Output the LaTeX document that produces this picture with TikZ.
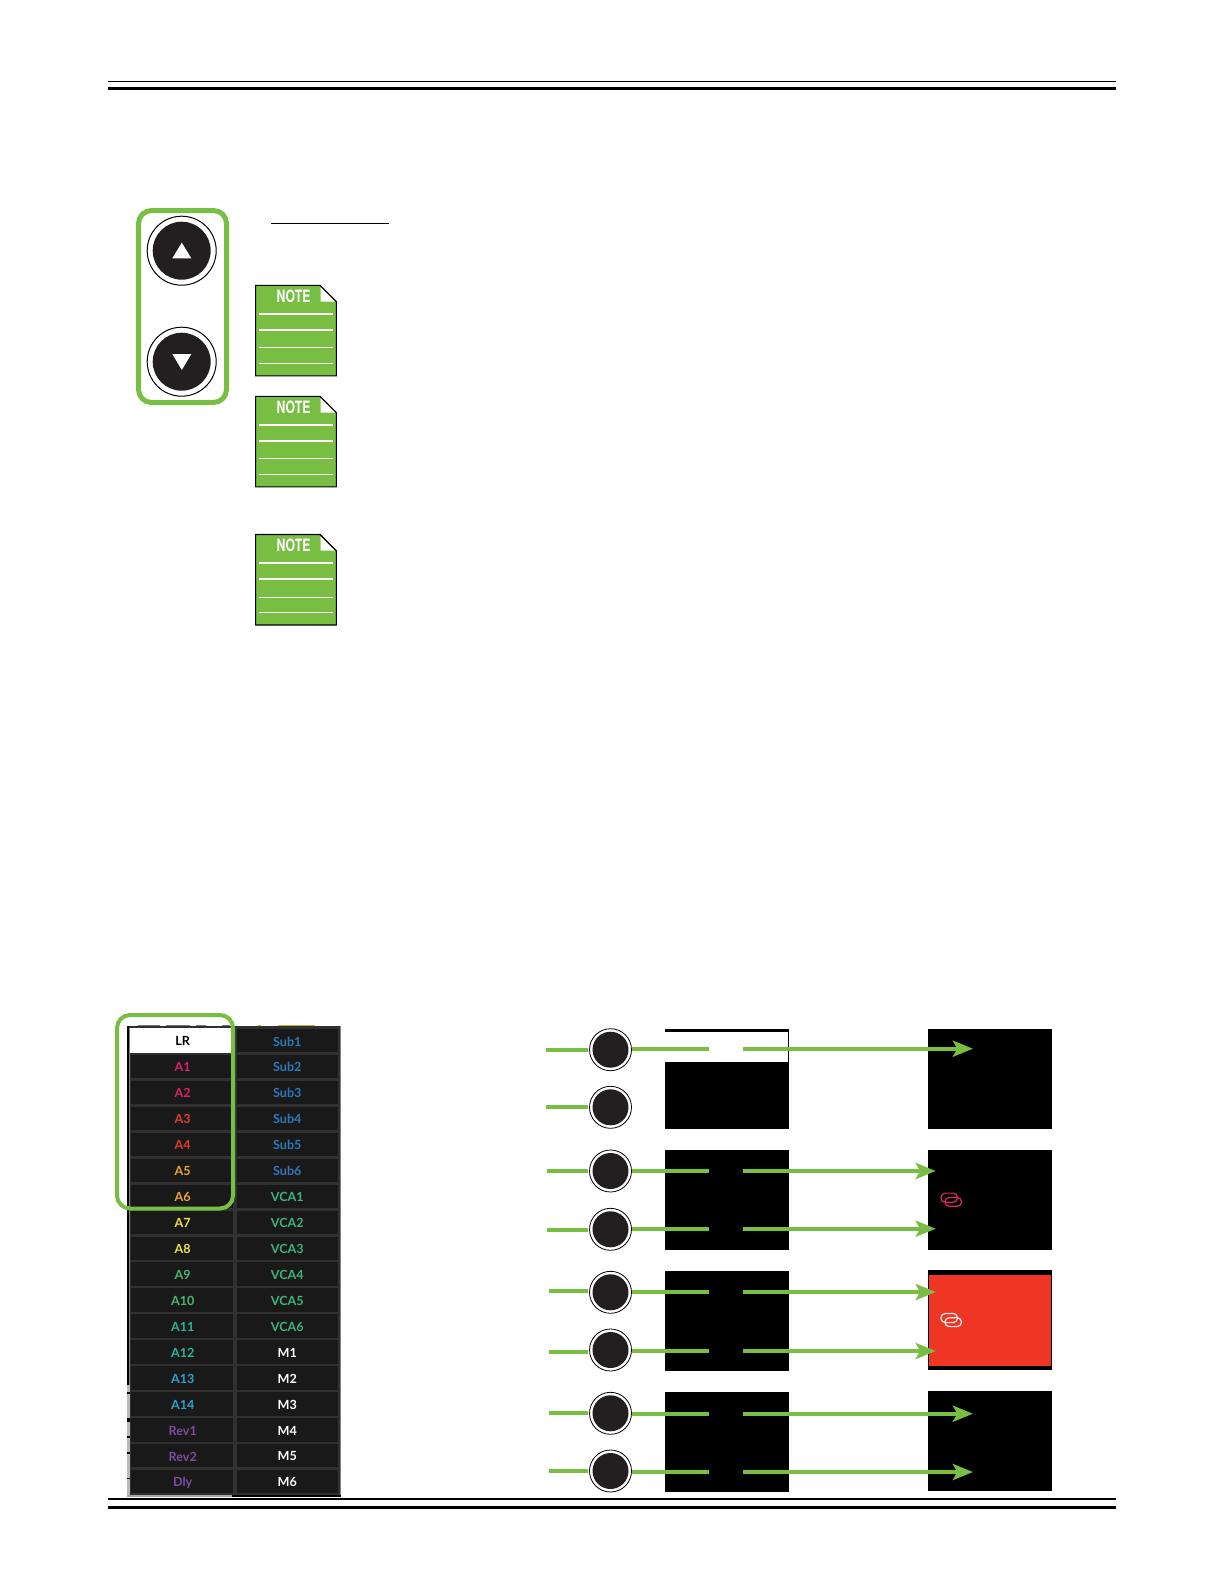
\documentclass[tikz,border=0pt]{standalone}
\usepackage{fontspec}
\setmainfont{Lato}
\newfontfamily\notefont{TeX Gyre Heros}
\usetikzlibrary{arrows.meta}
\definecolor{grn}{HTML}{78BE43}
\definecolor{btn}{HTML}{231F20}
\definecolor{cellc}{HTML}{191919}
\definecolor{panelc}{HTML}{303030}
\definecolor{redc}{HTML}{EF3524}
\definecolor{linkc}{HTML}{E0245E}
\definecolor{cA}{HTML}{D92467}
\definecolor{cB}{HTML}{E23A2E}
\definecolor{cC}{HTML}{EDA23A}
\definecolor{cD}{HTML}{EDE04A}
\definecolor{cE}{HTML}{4CB56E}
\definecolor{cF}{HTML}{2CB597}
\definecolor{cG}{HTML}{2D9FD0}
\definecolor{cH}{HTML}{7D4BA3}
\definecolor{cS}{HTML}{2F78B9}
\definecolor{cV}{HTML}{3FB27A}
\tikzset{
  px/.style={x=0.5pt,y=-0.5pt},
  rule/.style={line width=#1*0.5pt,black},
  selbox/.style={draw=grn,rounded corners=6.5pt,fill=none},
  bigbtn/.style={circle,draw=black,line width=0.5pt,fill=white,minimum size=34.5pt,inner sep=0pt},
  smallbtn/.style={circle,draw=black,line width=0.4pt,fill=white,minimum size=21pt,inner sep=0pt},
  disc/.style={circle,fill=btn,inner sep=0pt},
  glink/.style={draw=grn,line width=2pt},
  garrow/.style={draw=grn,line width=2pt,-{Stealth[length=10pt,width=8pt,inset=2.2pt]}},
  notetext/.style={font=\notefont\bfseries\fontsize{8.5}{9}\selectfont,text=white,xscale=0.72,inner sep=0pt},
  celltext/.style={font=\bfseries\fontsize{6.3}{7}\selectfont,inner sep=0pt,anchor=center},
}
\newcommand{\notesheet}[2]{%
  \fill[grn,draw=black,line width=0.55pt] (255.6,#1) -- (320,#1) -- (336.4,#1+16.5) -- (336.4,#1+90.5) -- (255.6,#1+90.5) -- cycle;
  \fill[white] (320.5,#1+0.8) -- (320.5,#1+16.2) -- (335.8,#1+16.2) -- cycle;
  \draw[black,line width=0.55pt] (320,#1) -- (336.4,#1+16.5);
  \node[notetext] (#2) at (293.5,#1+11) {NOTE};
  \draw[white,line width=0.8pt] (258.7,#1+28.4) -- (332.7,#1+28.4);
  \draw[white,line width=0.8pt] (258.7,#1+44.7) -- (332.7,#1+44.7);
  \draw[white,line width=0.4pt] (258.7,#1+62.4) -- (332.7,#1+62.4);
  \draw[white,line width=0.4pt] (258.7,#1+78) -- (332.7,#1+78);
}
\newcommand{\linkicon}[3]{%
  \draw[#3,line width=0.6pt,rounded corners=2.2pt] (#1-8.3,#2-4.6) rectangle (#1+8.3,#2+4.6);
  \draw[#3,line width=0.6pt,rounded corners=2.2pt] (#1-4.3,#2-0.3) rectangle (#1+12.3,#2+8.6);
}
\begin{document}
\begin{tikzpicture}[px]
\useasboundingbox (0,0) rectangle (1224,1584);
\fill[white] (0,0) rectangle (1224,1584);
% rules
\draw[rule=1.6] (108,81.5) -- (1116,81.5);
\draw[rule=3] (108,89) -- (1116,89);
\draw[rule=1.6] (108,1499) -- (1116,1499);
\draw[rule=3] (108,1507) -- (1116,1507);
% up/down
\draw[selbox,line width=2.5pt] (138.5,210.5) rectangle (226.5,402.5);
\node[bigbtn] (up) at (181.7,250.7) {};
\node[disc,minimum size=29pt] (updisc) at (up) {};
\fill[white] (172.3,258.3) -- (191.3,258.3) -- (181.8,242.7) -- cycle;
\node[bigbtn] (down) at (181.7,361.7) {};
\node[disc,minimum size=29pt] (downdisc) at (down) {};
\fill[white] (172.3,354) -- (191.3,354) -- (181.8,370) -- cycle;
\draw[black,line width=0.7pt] (271,223.3) -- (389,223.3);
\notesheet{285.3}{noteA}
\notesheet{396.3}{noteB}
\notesheet{534.5}{noteC}
% panel
\fill[panelc] (127,1026) rectangle (341,1497);
\fill[gray] (339.5,1026) rectangle (341,1497);
\fill[black] (127,1026) rectangle (128.5,1385);
\fill[gray!55] (127,1385) rectangle (130,1497);
\fill[gray] (128.5,1028) rectangle (130,1385);
\fill[gray!70] (127,1494.5) rectangle (232,1497);
\fill[black] (232,1494.5) rectangle (341,1497);
\foreach \ya/\yb in {1392/1393.5,1418/1422,1436/1437.5,1452/1453.5,1478/1479}{
  \fill[black] (127,\ya) rectangle (130,\yb);
}
% clipped fragments above the panel
\foreach \xa/\xb in {138/160,166/190,196/206,222/230}{
  \fill[black!55] (\xa,1024.8) rectangle (\xb,1026);
}
\foreach \xa/\xb in {258/261,278/315}{
  \fill[cD!80!black] (\xa,1024.6) rectangle (\xb,1025.8);
}
\foreach \i/\l/\lc/\r/\rc in {0/LR/black/Sub1/cS,1/A1/cA/Sub2/cS,2/A2/cA/Sub3/cS,3/A3/cB/Sub4/cS,4/A4/cB/Sub5/cS,5/A5/cC/Sub6/cS,6/A6/cC/VCA1/cV,7/A7/cD/VCA2/cV,8/A8/cD/VCA3/cV,9/A9/cE/VCA4/cV,10/A10/cE/VCA5/cV,11/A11/cF/VCA6/cV,12/A12/cF/M1/white,13/A13/cG/M2/white,14/A14/cG/M3/white,15/Rev1/cH/M4/white,16/Rev2/cH/M5/white,17/Dly/cH/M6/white}{
  \pgfmathsetmacro{\yc}{1040.7+25.94*\i}
  \ifnum\i=0
    \fill[white] (130,\yc-12.7) rectangle (234,\yc+12.7);
  \else
    \fill[cellc] (131,\yc-11.7) rectangle (233,\yc+11.7);
  \fi
  \fill[cellc] (237,\yc-11.7) rectangle (338,\yc+11.7);
  \node[celltext,text=\lc] (L\i) at (182.7,\yc+0.7) {\l};
  \node[celltext,text=\rc] (R\i) at (287.3,\yc+0.7) {\r};
}
\draw[selbox,line width=2pt] (117,1015) rectangle (233,1208.5);
% black boxes
\foreach \n/\t in {1/1029,2/1150,3/1271,4/1392}{
  \fill[black] (664.8,\t) rectangle (789,\t+100);
}
\fill[white] (664.8,1032) rectangle (788,1062);
\fill[black] (928,1029) rectangle (1052,1129);
\fill[black] (928,1150) rectangle (1052,1250);
\fill[black] (928,1270) rectangle (1052,1369.7);
\fill[redc] (929,1275) rectangle (1051,1366);
\fill[black] (928,1391) rectangle (1052,1490.7);
\linkicon{949.2}{1197.7}{linkc}
\linkicon{949.2}{1318}{white!92!redc}
% circles
\foreach \n/\y in {1/1049.7,2/1107.3,3/1171,4/1229.3,5/1292.3,6/1350,7/1413.3,8/1471}{
  \node[smallbtn] (c\n) at (610.5,\y) {};
  \node[disc,minimum size=18pt] (d\n) at (c\n) {};
}
% stubs
\foreach \n/\x/\y in {1/545.9/1049.7,2/545.9/1106.7,3/546.9/1171,4/546.9/1230,5/549/1291,6/549/1351.7,7/549/1412.7,8/549/1470.7}{
  \coordinate (s\n) at (\x,\y);
  \coordinate (e\n) at (587.5,\y);
  \draw[glink] (s\n) -- (e\n);
}
% connectors
\foreach \n/\y/\tip in {1/1048.7/972.9,3/1171/935.7,4/1228.7/935.7,5/1292/935.7,6/1351/935.7,7/1413.7/972.9,8/1472/972.9}{
  \coordinate (a\n) at (c\n.east |- {(0,\y)});
  \coordinate (b\n) at (709.2,\y);
  \coordinate (p\n) at (743,\y);
  \coordinate (t\n) at (\tip,\y);
  \draw[glink] (a\n) -- (b\n);
  \draw[garrow] (p\n) -- (t\n);
}
\end{tikzpicture}
\end{document}
